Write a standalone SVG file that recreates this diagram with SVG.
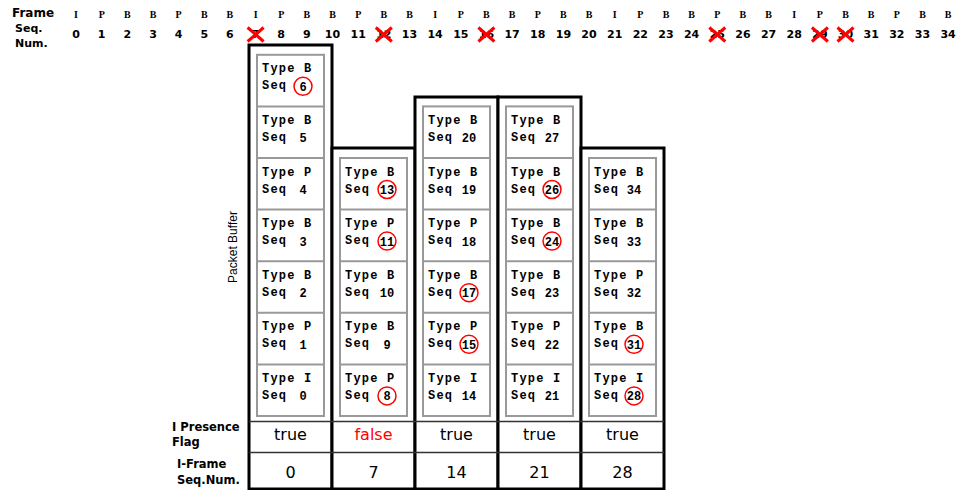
<svg xmlns="http://www.w3.org/2000/svg" width="959" height="490" viewBox="0 0 959 490">
<style>
.col{fill:#fff;stroke:#000;stroke-width:3}
.inner{fill:#fff;stroke:#999;stroke-width:2}
.div{stroke:#999;stroke-width:2}
.cell{font-family:"Liberation Mono",monospace;font-weight:bold;font-size:12px;letter-spacing:1.2px;fill:#000}
.num{font-family:"Liberation Mono",monospace;font-weight:bold;font-size:12px;text-anchor:middle;fill:#000}
.circ{fill:none;stroke:#f00;stroke-width:1.5}
.hdr{font-family:"DejaVu Sans",sans-serif;font-weight:bold;font-size:11px;fill:#000}
.sn{font-family:"DejaVu Sans",sans-serif;font-weight:bold;font-size:11px;text-anchor:middle;fill:#000}
.ft{font-family:"Liberation Serif",serif;font-weight:bold;font-size:10px;text-anchor:middle;fill:#000}
.val{font-family:"DejaVu Sans",sans-serif;font-size:16px;text-anchor:middle;fill:#000}
.lab{font-family:"DejaVu Sans",sans-serif;font-weight:bold;font-size:11.5px;fill:#000}
.pb{font-family:"Liberation Sans",sans-serif;font-size:12px;text-anchor:middle;fill:#000}
.xm{stroke:#f00;stroke-width:3;fill:none}
.tl{stroke:#333;stroke-width:1.5}
</style>
<defs>
<path id="xmark" d="M-8,-7 L8,7 M8,-7 L-8,7" class="xm"/>
</defs>
<rect width="959" height="490" fill="#fff"/>

<g id="header">
<text class="hdr" x="12" y="17" style="font-size:12px">Frame</text>
<text class="hdr" x="15" y="32">Seq.</text>
<text class="hdr" x="15" y="47">Num.</text>
<text class="ft" y="18" x="76.0 101.7 127.3 153.0 178.6 204.3 229.9 255.6 281.2 306.9 332.5 358.2 383.8 409.5 435.1 460.8 486.4 512.1 537.7 563.4 589.0 614.7 640.3 666.0 691.6 717.3 742.9 768.6 794.2 819.9 845.5 871.2 896.8 922.5 948.1">IPBBPBBIPBBPBBIPBBPBBIPBBPBBIPBBPBB</text>
<text class="sn" y="38" x="76.0">0</text>
<text class="sn" y="38" x="101.7">1</text>
<text class="sn" y="38" x="127.3">2</text>
<text class="sn" y="38" x="153.0">3</text>
<text class="sn" y="38" x="178.6">4</text>
<text class="sn" y="38" x="204.3">5</text>
<text class="sn" y="38" x="229.9">6</text>
<text class="sn" y="38" x="255.6">7</text>
<text class="sn" y="38" x="281.2">8</text>
<text class="sn" y="38" x="306.9">9</text>
<text class="sn" y="38" x="332.5">10</text>
<text class="sn" y="38" x="358.2">11</text>
<text class="sn" y="38" x="383.8">12</text>
<text class="sn" y="38" x="409.5">13</text>
<text class="sn" y="38" x="435.1">14</text>
<text class="sn" y="38" x="460.8">15</text>
<text class="sn" y="38" x="486.4">16</text>
<text class="sn" y="38" x="512.1">17</text>
<text class="sn" y="38" x="537.7">18</text>
<text class="sn" y="38" x="563.4">19</text>
<text class="sn" y="38" x="589.0">20</text>
<text class="sn" y="38" x="614.7">21</text>
<text class="sn" y="38" x="640.3">22</text>
<text class="sn" y="38" x="666.0">23</text>
<text class="sn" y="38" x="691.6">24</text>
<text class="sn" y="38" x="717.3">25</text>
<text class="sn" y="38" x="742.9">26</text>
<text class="sn" y="38" x="768.6">27</text>
<text class="sn" y="38" x="794.2">28</text>
<text class="sn" y="38" x="819.9">29</text>
<text class="sn" y="38" x="845.5">30</text>
<text class="sn" y="38" x="871.2">31</text>
<text class="sn" y="38" x="896.8">32</text>
<text class="sn" y="38" x="922.5">33</text>
<text class="sn" y="38" x="948.1">34</text>
<use href="#xmark" x="255.6" y="34.5"/>
<use href="#xmark" x="383.8" y="34.5"/>
<use href="#xmark" x="486.4" y="34.5"/>
<use href="#xmark" x="717.3" y="34.5"/>
<use href="#xmark" x="819.9" y="34.5"/>
<use href="#xmark" x="845.5" y="34.5"/>
</g>

<g id="labels">
<text class="pb" transform="translate(237,247) rotate(-90)">Packet Buffer</text>
<text class="lab" x="172" y="431">I Presence</text>
<text class="lab" x="172" y="446">Flag</text>
<text class="lab" x="177" y="468">I-Frame</text>
<text class="lab" x="177" y="484">Seq.Num.</text>
</g>

<g id="col1">
<rect class="col" x="249" y="45" width="83" height="444"/>
<rect class="inner" x="257" y="54.8" width="67" height="361.2"/>
<path class="div" d="M257,106.4H324M257,158H324M257,209.6H324M257,261.2H324M257,312.8H324M257,364.4H324"/>
<text class="cell" x="262" y="72.3">Type B</text><text class="cell" x="262" y="89.3">Seq</text><text class="num" x="303" y="90.8">6</text><circle class="circ" cx="303" cy="86.3" r="9"/>
<text class="cell" x="262" y="123.9">Type B</text><text class="cell" x="262" y="140.9">Seq</text><text class="num" x="303" y="142.4">5</text>
<text class="cell" x="262" y="175.5">Type P</text><text class="cell" x="262" y="192.5">Seq</text><text class="num" x="303" y="194">4</text>
<text class="cell" x="262" y="227.1">Type B</text><text class="cell" x="262" y="244.1">Seq</text><text class="num" x="303" y="245.6">3</text>
<text class="cell" x="262" y="278.7">Type B</text><text class="cell" x="262" y="295.7">Seq</text><text class="num" x="303" y="297.2">2</text>
<text class="cell" x="262" y="330.3">Type P</text><text class="cell" x="262" y="347.3">Seq</text><text class="num" x="303" y="348.8">1</text>
<text class="cell" x="262" y="381.9">Type I</text><text class="cell" x="262" y="398.9">Seq</text><text class="num" x="303" y="400.4">0</text>
</g>

<g id="col2">
<rect class="col" x="332" y="148" width="83" height="341"/>
<rect class="inner" x="340" y="158" width="67" height="258"/>
<path class="div" d="M340,209.6H407M340,261.2H407M340,312.8H407M340,364.4H407"/>
<text class="cell" x="345" y="175.5">Type B</text><text class="cell" x="345" y="192.5">Seq</text><text class="num" x="387" y="194">13</text><circle class="circ" cx="387" cy="189.5" r="9"/>
<text class="cell" x="345" y="227.1">Type P</text><text class="cell" x="345" y="244.1">Seq</text><text class="num" x="387" y="245.6">11</text><circle class="circ" cx="387" cy="241.1" r="9"/>
<text class="cell" x="345" y="278.7">Type B</text><text class="cell" x="345" y="295.7">Seq</text><text class="num" x="387" y="297.2">10</text>
<text class="cell" x="345" y="330.3">Type B</text><text class="cell" x="345" y="347.3">Seq</text><text class="num" x="387" y="348.8">9</text>
<text class="cell" x="345" y="381.9">Type P</text><text class="cell" x="345" y="398.9">Seq</text><text class="num" x="387" y="400.4">8</text><circle class="circ" cx="387" cy="395.9" r="9"/>
</g>

<g id="col3">
<rect class="col" x="415" y="97" width="83" height="392"/>
<rect class="inner" x="423" y="106.4" width="67" height="309.6"/>
<path class="div" d="M423,158H490M423,209.6H490M423,261.2H490M423,312.8H490M423,364.4H490"/>
<text class="cell" x="428" y="123.9">Type B</text><text class="cell" x="428" y="140.9">Seq</text><text class="num" x="469" y="142.4">20</text>
<text class="cell" x="428" y="175.5">Type B</text><text class="cell" x="428" y="192.5">Seq</text><text class="num" x="469" y="194">19</text>
<text class="cell" x="428" y="227.1">Type P</text><text class="cell" x="428" y="244.1">Seq</text><text class="num" x="469" y="245.6">18</text>
<text class="cell" x="428" y="278.7">Type B</text><text class="cell" x="428" y="295.7">Seq</text><text class="num" x="469" y="297.2">17</text><circle class="circ" cx="469" cy="292.7" r="9"/>
<text class="cell" x="428" y="330.3">Type P</text><text class="cell" x="428" y="347.3">Seq</text><text class="num" x="469" y="348.8">15</text><circle class="circ" cx="469" cy="344.3" r="9"/>
<text class="cell" x="428" y="381.9">Type I</text><text class="cell" x="428" y="398.9">Seq</text><text class="num" x="469" y="400.4">14</text>
</g>

<g id="col4">
<rect class="col" x="498" y="97" width="83" height="392"/>
<rect class="inner" x="506" y="106.4" width="67" height="309.6"/>
<path class="div" d="M506,158H573M506,209.6H573M506,261.2H573M506,312.8H573M506,364.4H573"/>
<text class="cell" x="511" y="123.9">Type B</text><text class="cell" x="511" y="140.9">Seq</text><text class="num" x="552" y="142.4">27</text>
<text class="cell" x="511" y="175.5">Type B</text><text class="cell" x="511" y="192.5">Seq</text><text class="num" x="552" y="194">26</text><circle class="circ" cx="552" cy="189.5" r="9"/>
<text class="cell" x="511" y="227.1">Type B</text><text class="cell" x="511" y="244.1">Seq</text><text class="num" x="552" y="245.6">24</text><circle class="circ" cx="552" cy="241.1" r="9"/>
<text class="cell" x="511" y="278.7">Type B</text><text class="cell" x="511" y="295.7">Seq</text><text class="num" x="552" y="297.2">23</text>
<text class="cell" x="511" y="330.3">Type P</text><text class="cell" x="511" y="347.3">Seq</text><text class="num" x="552" y="348.8">22</text>
<text class="cell" x="511" y="381.9">Type I</text><text class="cell" x="511" y="398.9">Seq</text><text class="num" x="552" y="400.4">21</text>
</g>

<g id="col5">
<rect class="col" x="581" y="148" width="83" height="341"/>
<rect class="inner" x="589" y="158" width="67" height="258"/>
<path class="div" d="M589,209.6H656M589,261.2H656M589,312.8H656M589,364.4H656"/>
<text class="cell" x="594" y="175.5">Type B</text><text class="cell" x="594" y="192.5">Seq</text><text class="num" x="634" y="194">34</text>
<text class="cell" x="594" y="227.1">Type B</text><text class="cell" x="594" y="244.1">Seq</text><text class="num" x="634" y="245.6">33</text>
<text class="cell" x="594" y="278.7">Type P</text><text class="cell" x="594" y="295.7">Seq</text><text class="num" x="634" y="297.2">32</text>
<text class="cell" x="594" y="330.3">Type B</text><text class="cell" x="594" y="347.3">Seq</text><text class="num" x="634" y="348.8">31</text><circle class="circ" cx="634" cy="344.3" r="9"/>
<text class="cell" x="594" y="381.9">Type I</text><text class="cell" x="594" y="398.9">Seq</text><text class="num" x="634" y="400.4">28</text><circle class="circ" cx="634" cy="395.9" r="9"/>
</g>

<g id="table">
<path class="tl" d="M249,421.5H664M249,452.5H664"/>
<text class="val" x="290.5" y="440">true</text>
<text class="val" x="373.5" y="440" style="fill:#f00">false</text>
<text class="val" x="456.5" y="440">true</text>
<text class="val" x="539.5" y="440">true</text>
<text class="val" x="622.5" y="440">true</text>
<text class="val" x="290.5" y="478">0</text>
<text class="val" x="373.5" y="478">7</text>
<text class="val" x="456.5" y="478">14</text>
<text class="val" x="539.5" y="478">21</text>
<text class="val" x="622.5" y="478">28</text>
</g>
</svg>
